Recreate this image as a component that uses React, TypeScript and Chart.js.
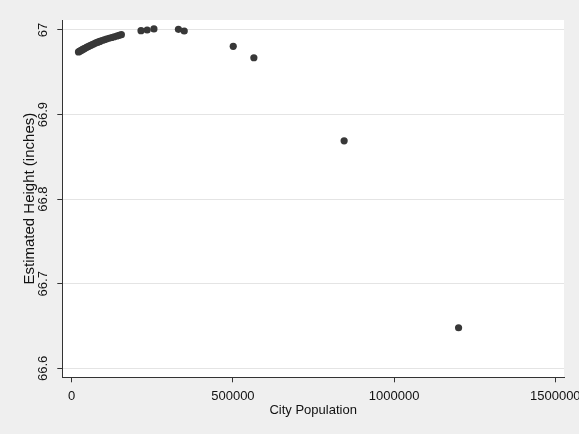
import React, { useEffect, useRef } from 'react';
import { Chart, registerables } from 'chart.js';

Chart.register(...registerables);

const population = [
  21000, 25000, 29000, 33000, 37000, 41000, 45000, 49000, 54000, 59000,
  64000, 69000, 75000, 81000, 87000, 94000, 101000, 108000, 116000, 124000,
  132000, 140000, 147000, 154000,
  215000, 234000, 255000, 331000, 349000, 501000, 565000, 845000, 1200000,
];
const estHeight = [
  66.974, 66.9749, 66.9758, 66.9767, 66.9776, 66.9784, 66.9792, 66.98, 66.981, 66.9819,
  66.9828, 66.9837, 66.9847, 66.9856, 66.9865, 66.9875, 66.9884, 66.9893, 66.9902, 66.9911,
  66.992, 66.9929, 66.9937, 66.9945,
  66.9992, 67.0, 67.0012, 67.0008, 66.9988, 66.9807, 66.9672, 66.869, 66.648,
];
const xTickValues = [0, 500000, 1000000, 1500000];
const xTickLabels = ['0', '500000', '1000000', '1500000'];
const yTickValues = [66.6, 66.7, 66.8, 66.9, 67];
const yTickLabels = ['66.6', '66.7', '66.8', '66.9', '67'];
const xTitle = 'City Population';
const yTitle = 'Estimated Height (inches)';

const FONT = "'Liberation Sans', Arial, sans-serif";

export default function App() {
  const ref = useRef<HTMLCanvasElement>(null);
  useEffect(() => {
    document.body.style.margin = '0';
    const bg = {
      id: 'bg',
      beforeDraw(chart: any) {
        const { ctx, chartArea: a } = chart;
        ctx.save();
        ctx.fillStyle = '#efefef';
        ctx.fillRect(0, 0, chart.width, chart.height);
        ctx.fillStyle = '#ffffff';
        ctx.fillRect(a.left, a.top, a.right - a.left, a.bottom - a.top);
        ctx.restore();
      },
    };
    const chart = new Chart(ref.current as HTMLCanvasElement, {
      type: 'scatter',
      data: {
        datasets: [
          {
            data: population.map((p, i) => ({ x: p, y: estHeight[i] })),
            backgroundColor: '#383838',
            borderWidth: 0,
            pointRadius: 3.6,
          },
        ],
      },
      options: {
        responsive: false,
        animation: false,
        layout: { padding: { top: 20, right: 15, left: 0, bottom: 0 } },
        plugins: { legend: { display: false }, tooltip: { enabled: false } },
        scales: {
          x: {
            type: 'linear',
            min: -29200,
            max: 1527000,
            afterBuildTicks(s: any) {
              s.ticks = xTickValues.map((v) => ({ value: v }));
            },
            afterFit(s: any) {
              s.height = 56.7;
              s.paddingRight = 0;
              s.paddingLeft = 0;
            },
            grid: { drawOnChartArea: false, tickLength: 5, tickColor: '#333', color: '#333' },
            border: { color: '#333', width: 1 },
            ticks: {
              color: '#111',
              font: { family: FONT, size: 13 },
              padding: 6.5,
              maxRotation: 0,
              minRotation: 0,
              autoSkip: false,
              callback: (v: any, i: number) => xTickLabels[i],
            },
            title: {
              display: true,
              text: xTitle,
              color: '#111',
              font: { family: FONT, size: 13 },
              padding: { top: 0, bottom: 16.2 },
            },
          },
          y: {
            type: 'linear',
            min: 66.5894,
            max: 67.0118,
            afterBuildTicks(s: any) {
              s.ticks = yTickValues.map((v) => ({ value: v }));
            },
            afterFit(s: any) {
              s.width = 62.3;
              s.paddingTop = 0;
              s.paddingBottom = 0;
            },
            grid: { color: '#e4e4e4', tickColor: '#333', tickLength: 5, lineWidth: 1 },
            border: { color: '#333', width: 1 },
            ticks: {
              color: '#111',
              font: { family: FONT, size: 13 },
              minRotation: 90,
              maxRotation: 90,
              crossAlign: 'center',
              padding: 1.6,
              autoSkip: false,
              callback: (v: any, i: number) => yTickLabels[i],
            },
            title: {
              display: true,
              text: yTitle,
              color: '#111',
              font: { family: FONT, size: 15 },
              padding: { top: 20.7, bottom: 0 },
            },
          },
        },
      },
      plugins: [bg],
    } as any);
    return () => chart.destroy();
  }, []);
  return <canvas ref={ref} width={579} height={434} style={{ display: 'block' }} />;
}
